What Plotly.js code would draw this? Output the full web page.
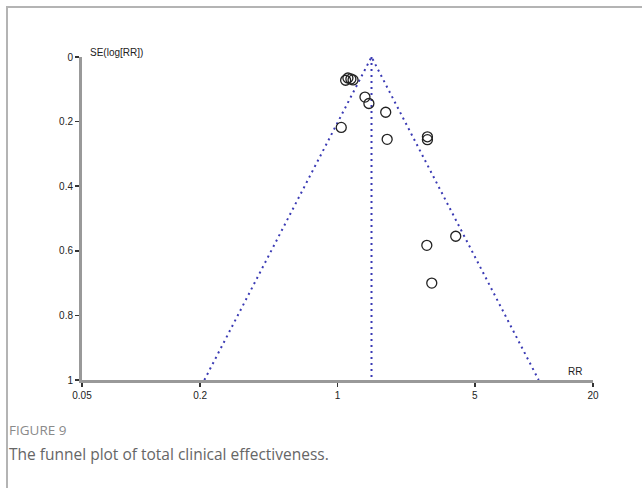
<!DOCTYPE html>
<html>
<head>
<meta charset="utf-8">
<script src="https://cdn.plot.ly/plotly-3.0.1.min.js"></script>
<style>
  html, body { margin:0; padding:0; background:#fff; }
  #wrap { position:relative; width:642px; height:488px; overflow:hidden; }
  #frame { position:absolute; left:6px; top:6px; width:700px; height:600px; border-top:2px solid #b4b4b4; border-left:2px solid #b4b4b4; pointer-events:none; }
  #chart { position:absolute; left:0; top:0; width:642px; height:488px; }
</style>
</head>
<body>
<div id="wrap">
  <div id="chart"></div>
  <div id="frame"></div>
</div>
<script>
// Study estimates (risk ratio) and their standard errors of log(RR)
const studyRR = [1.10, 1.13, 1.17, 1.20, 1.38, 1.445, 1.76, 1.045, 1.79, 2.87, 2.87, 4.0, 2.85, 3.02];
const studySE = [0.072, 0.065, 0.068, 0.071, 0.124, 0.144, 0.171, 0.218, 0.255, 0.247, 0.256, 0.555, 0.583, 0.700];
// Pooled estimate
const pooledRR = 1.49;
const seLevels = [0, 1];
const xTickVals = [0.05, 0.2, 1, 5, 20];
const xTickText = ["0.05", "0.2", "1", "5", "20"];
const yTickVals = [0, 0.2, 0.4, 0.6, 0.8, 1];
const yTickText = ["0", "0.2", "0.4", "0.6", "0.8", "1"];

const lp = Math.log(pooledRR);
const lowerX = seLevels.map(s => Math.exp(lp - 1.96 * s));
const upperX = seLevels.map(s => Math.exp(lp + 1.96 * s));
const lineStyle = {color: '#3a3ab4', width: 2, dash: '2px,4px'};

const traces = [
  {x: [lowerX[1], lowerX[0], upperX[1]], y: [seLevels[1], seLevels[0], seLevels[1]], mode: 'lines', line: lineStyle, hoverinfo: 'skip'},
  {x: [pooledRR, pooledRR], y: seLevels, mode: 'lines', line: lineStyle, hoverinfo: 'skip'},
  {x: studyRR, y: studySE, mode: 'markers', marker: {symbol: 'circle-open', size: 10, color: '#222', line: {width: 1.3, color: '#222'}}}
];

const axisFont = {family: 'Liberation Sans, Arial, sans-serif', size: 10, color: '#222'};
const layout = {
  width: 642, height: 488,
  margin: {l: 82, r: 49, t: 57, b: 108},
  paper_bgcolor: '#fff', plot_bgcolor: '#fff',
  showlegend: false,
  xaxis: {
    type: 'log', range: [Math.log10(0.05), Math.log10(20)],
    tickvals: xTickVals, ticktext: xTickText,
    showgrid: false, zeroline: false,
    showline: true, linecolor: '#999', linewidth: 3,
    ticks: 'outside', ticklen: 4, tickwidth: 1.5, tickcolor: '#333',
    tickfont: axisFont
  },
  yaxis: {
    range: [1, 0],
    tickvals: yTickVals, ticktext: yTickText,
    showgrid: false, zeroline: false,
    showline: true, linecolor: '#999', linewidth: 3,
    ticks: 'outside', ticklen: 4, tickwidth: 1.5, tickcolor: '#333',
    tickfont: axisFont
  },
  annotations: [
    {xref: 'paper', yref: 'paper', x: 0.012, y: 1.0, xanchor: 'left', yanchor: 'bottom', yshift: -3,
     text: 'SE(log[RR])', showarrow: false, font: {family: 'Liberation Sans, Arial, sans-serif', size: 10, color: '#222'}},
    {xref: 'paper', yref: 'paper', x: 0.965, y: 0, xanchor: 'center', yanchor: 'bottom', yshift: 1,
     text: 'RR', showarrow: false, font: {family: 'Liberation Sans, Arial, sans-serif', size: 10, color: '#222'}},
    {xref: 'paper', yref: 'paper', x: -0.146, y: -0.154, xanchor: 'left', yanchor: 'middle',
     text: 'FIGURE 9', showarrow: false, font: {family: 'Open Sans, sans-serif', size: 13.5, color: '#8a8a8a'}},
    {xref: 'paper', yref: 'paper', x: -0.146, y: -0.228, xanchor: 'left', yanchor: 'middle',
     text: 'The funnel plot of total clinical effectiveness.', showarrow: false, font: {family: 'Open Sans, sans-serif', size: 15.5, color: '#666'}}
  ]
};
Plotly.newPlot('chart', traces, layout, {displayModeBar: false, staticPlot: true});
</script>
</body>
</html>
